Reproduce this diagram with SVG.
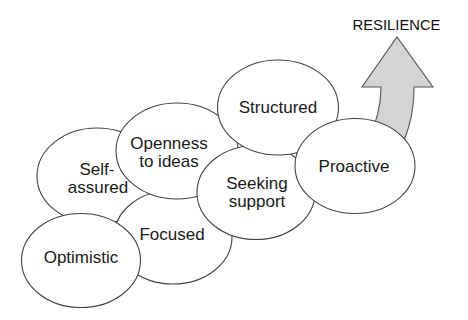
<svg xmlns="http://www.w3.org/2000/svg" width="468" height="320" viewBox="0 0 468 320">
<style>
.n{fill:#fff;stroke:#444;stroke-width:1.1}
.t{font-family:"Liberation Sans",Arial,sans-serif;font-size:17px;fill:#1a1a1a;text-anchor:middle}
.arr{fill:#d4d4d4;stroke:#555;stroke-width:1.1;stroke-linejoin:miter}
</style>
<rect width="468" height="320" fill="#fff"/>
<g id="self-assured"><ellipse class="n" cx="97" cy="176" rx="60" ry="48"/><text class="t" x="97" y="175">Self-</text><text class="t" x="98" y="193">assured</text></g>
<g id="focused"><ellipse class="n" cx="173" cy="237" rx="59" ry="47"/><text class="t" x="172" y="240">Focused</text></g>
<g id="optimistic"><ellipse class="n" cx="81" cy="260.5" rx="59.5" ry="47"/><text class="t" x="81" y="263">Optimistic</text></g>
<g id="openness"><ellipse class="n" cx="177" cy="151" rx="61" ry="48"/><text class="t" x="169" y="149">Openness</text><text class="t" x="169" y="167">to ideas</text></g>
<g id="seeking-support"><ellipse class="n" cx="256" cy="192.5" rx="59" ry="47"/><text class="t" x="257" y="188.5">Seeking</text><text class="t" x="257" y="207">support</text></g>
<g id="structured"><ellipse class="n" cx="278" cy="107.5" rx="60.5" ry="47.5"/><text class="t" x="278" y="113">Structured</text></g>
<g id="connectors"><path class="arr" d="M368 140 C377 122 381 105 381 87 L362 87 L397 37 L433 87 L414 87 C414 115 408 138 394 158 Z"/></g>
<g id="proactive"><ellipse class="n" cx="355" cy="166" rx="60" ry="47.5"/><text class="t" x="354" y="172">Proactive</text></g>
<g id="resilience"><text x="396.5" y="30" style="font-family:'Liberation Sans',Arial,sans-serif;font-size:14.8px;fill:#111;text-anchor:middle">RESILIENCE</text></g>
</svg>
